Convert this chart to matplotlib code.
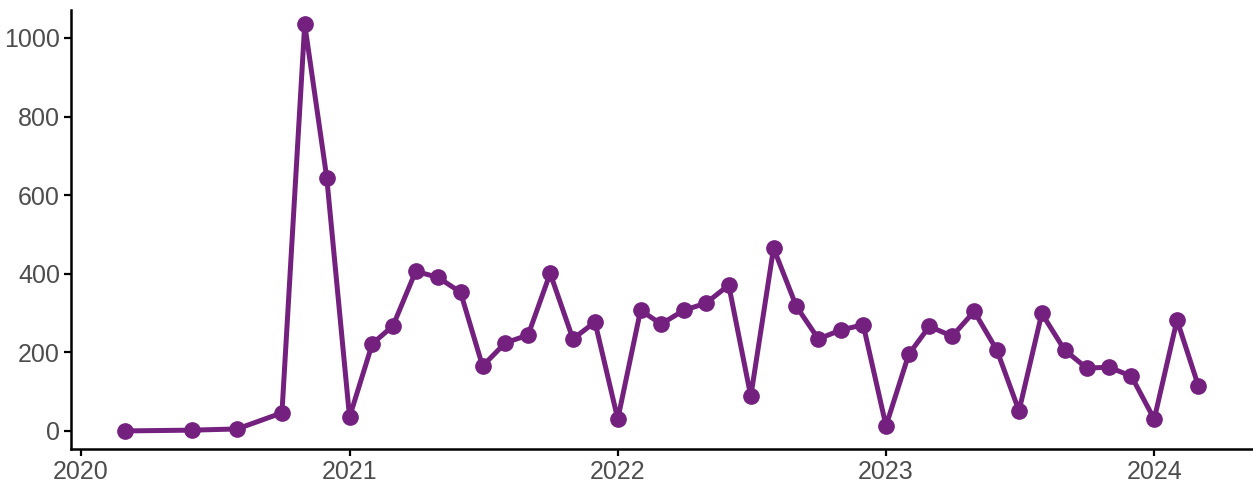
import numpy as np
import pandas as pd
import matplotlib
matplotlib.use("Agg")
import matplotlib.pyplot as plt
import matplotlib.dates as mdates

MONTHS = [
    "2020-03", "2020-06", "2020-08", "2020-10", "2020-11", "2020-12",
    "2021-01", "2021-02", "2021-03", "2021-04", "2021-05", "2021-06",
    "2021-07", "2021-08", "2021-09", "2021-10", "2021-11", "2021-12",
    "2022-01", "2022-02", "2022-03", "2022-04", "2022-05", "2022-06",
    "2022-07", "2022-08", "2022-09", "2022-10", "2022-11", "2022-12",
    "2023-01", "2023-02", "2023-03", "2023-04", "2023-05", "2023-06",
    "2023-07", "2023-08", "2023-09", "2023-10", "2023-11", "2023-12",
    "2024-01", "2024-02", "2024-03",
]
COUNTS = [
    0, 2, 5, 46, 1035, 644,
    35, 222, 267, 406, 391, 353,
    165, 224, 244, 401, 234, 277,
    30, 307, 272, 307, 325, 371,
    88, 465, 317, 234, 257, 270,
    13, 195, 266, 241, 304, 205,
    51, 299, 206, 160, 162, 139,
    30, 282, 115,
]
COLOR = "#74207F"

dates = pd.to_datetime(MONTHS)

plt.rcParams["font.family"] = ["Liberation Sans", "DejaVu Sans"]
fig = plt.figure(figsize=(12.53, 4.82), dpi=100)
ax = fig.add_axes([71 / 1253, 33 / 482, (1252 - 71) / 1253, (449 - 10) / 482])

ax.plot(dates, COUNTS, color=COLOR, lw=3.6, marker="o", ms=11,
        solid_joinstyle="round", solid_capstyle="round")
ax.margins(x=0.05)
ax.set_ylim(-46, 1071)

ax.xaxis.set_major_locator(mdates.YearLocator())
ax.xaxis.set_major_formatter(mdates.DateFormatter("%Y"))
ax.set_yticks([0, 200, 400, 600, 800, 1000])

for side in ("top", "right"):
    ax.spines[side].set_visible(False)
for side in ("left", "bottom"):
    ax.spines[side].set_linewidth(1.8)
    ax.spines[side].set_color("black")
ax.tick_params(length=5, width=1.6, color="black", labelsize=18,
               labelcolor="#4D4D4D", pad=3)

fig.savefig("out.png", dpi=100)
